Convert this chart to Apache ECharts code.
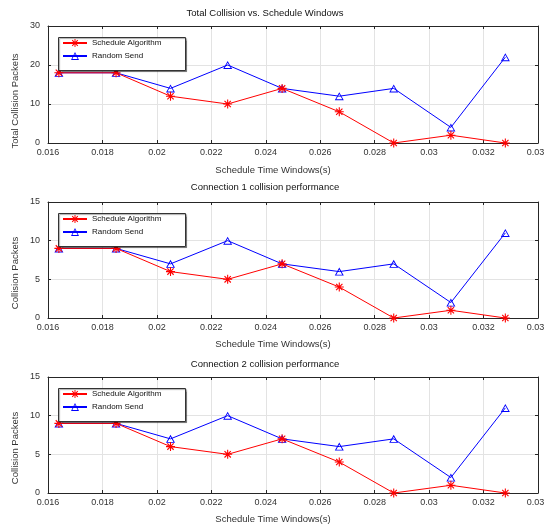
<!DOCTYPE html>
<html>
<head>
<meta charset="utf-8">
<script src="https://cdn.jsdelivr.net/npm/echarts@6/dist/echarts.min.js"></script>
<style>
html,body{margin:0;padding:0;background:#fff;}
#chart{width:544px;height:524px;}
</style>
</head>
<body>
<div id="chart"></div>
<script>
// ---- data ----
const scheduleWindows = [0.0164, 0.0185, 0.0205, 0.0226, 0.0246, 0.0267, 0.0287, 0.0308, 0.0328];
const totalSchedule = [18, 18, 12, 10, 14, 8, 0, 2, 0];
const totalRandom   = [18, 18, 14, 20, 14, 12, 14, 4, 22];
const conn1Schedule = [9, 9, 6, 5, 7, 4, 0, 1, 0];
const conn1Random   = [9, 9, 7, 10, 7, 6, 7, 2, 11];
const conn2Schedule = [9, 9, 6, 5, 7, 4, 0, 1, 0];
const conn2Random   = [9, 9, 7, 10, 7, 6, 7, 2, 11];
const seriesNames = ['Schedule Algorithm', 'Random Send'];
const plotTitles = ['Total Collision vs. Schedule Windows', 'Connection 1 collision performance', 'Connection 2 collision performance'];
const xAxisTitle = 'Schedule Time Windows(s)';
const yAxisTitles = ['Total Collision Packets', 'Collision Packets', 'Collision Packets'];
const yMax = [30, 15, 15];
const yStep = [10, 5, 5];

// ---- layout / style ----
const FONT = 'Liberation Sans, Arial, Helvetica, sans-serif';
const grids = [
  {left: 48, top: 26, width: 490, height: 117},
  {left: 48, top: 202, width: 490, height: 116},
  {left: 48, top: 377, width: 490, height: 116}
];
const titleY = [13, 187, 364];
const xNameY = [170, 344, 519];
const yNameY = [101, 273, 448];
const asterisk = 'path://M4.4 0L5.6 0L5.6 10L4.4 10ZM0 4.4L10 4.4L10 5.6L0 5.6ZM1.05 1.95L1.95 1.05L8.95 8.05L8.05 8.95ZM8.05 1.05L8.95 1.95L1.95 8.95L1.05 8.05Z';
const triangle = 'path://M5 0L10 9L0 9ZM5 2.06L1.7 8L8.3 8Z';
const axisColor = '#262626';

const sets = [[totalSchedule, totalRandom], [conn1Schedule, conn1Random], [conn2Schedule, conn2Random]];

const xAxis = [], yAxis = [], series = [], legend = [], graphic = [];
grids.forEach((g, i) => {
  const base = {
    gridIndex: i, type: 'value', min: 0.016, max: 0.034, interval: 0.002,
    axisLine: {show: true, onZero: false, lineStyle: {color: axisColor, width: 1}},
    axisTick: {show: true, inside: true, length: 3, lineStyle: {color: axisColor}}
  };
  xAxis.push(Object.assign({}, base, {
    position: 'bottom',
    axisLabel: {fontFamily: FONT, fontSize: 9, color: '#333', margin: 5, showMinLabel: true, showMaxLabel: true, hideOverlap: false},
    splitLine: {show: true, lineStyle: {color: '#e3e3e3', width: 1}}
  }));
  xAxis.push(Object.assign({}, base, {
    position: 'top', axisLabel: {show: false}, splitLine: {show: false}
  }));
  const ybase = {
    gridIndex: i, type: 'value', min: 0, max: yMax[i], interval: yStep[i],
    axisLine: {show: true, onZero: false, lineStyle: {color: axisColor, width: 1}},
    axisTick: {show: true, inside: true, length: 3, lineStyle: {color: axisColor}}
  };
  yAxis.push(Object.assign({}, ybase, {
    position: 'left',
    axisLabel: {fontFamily: FONT, fontSize: 9, color: '#333', margin: 8},
    splitLine: {show: true, lineStyle: {color: '#e3e3e3', width: 1}}
  }));
  yAxis.push(Object.assign({}, ybase, {
    position: 'right', axisLabel: {show: false}, splitLine: {show: false}
  }));
  const [sa, rs] = sets[i];
  series.push({
    name: seriesNames[0], type: 'line', xAxisIndex: 2 * i, yAxisIndex: 2 * i,
    data: scheduleWindows.map((x, k) => [x, sa[k]]),
    symbol: asterisk, symbolSize: 9, showAllSymbol: true,
    lineStyle: {color: '#ff0000', width: 1}, itemStyle: {color: '#ff0000'},
    emphasis: {disabled: true}, animation: false, z: 3
  });
  series.push({
    name: seriesNames[1], type: 'line', xAxisIndex: 2 * i, yAxisIndex: 2 * i,
    data: scheduleWindows.map((x, k) => [x, rs[k]]),
    symbol: triangle, symbolSize: [9, 8], showAllSymbol: true,
    lineStyle: {color: '#0000ff', width: 1}, itemStyle: {color: '#0000ff'},
    emphasis: {disabled: true}, animation: false, z: 2
  });
  const lx = g.left + 10, ly = g.top + 11;
  graphic.push({
    type: 'rect', left: lx, top: ly, z: 10,
    shape: {width: 127, height: 33},
    style: {fill: '#fff', stroke: '#333', lineWidth: 1, shadowColor: 'rgba(0,0,0,0.35)', shadowOffsetX: 1, shadowOffsetY: 1, shadowBlur: 1}
  });
  legend.push({
    data: seriesNames, orient: 'vertical', left: lx + 4, top: ly + 2, padding: 0,
    itemWidth: 24, itemHeight: 10, itemGap: 5, z: 12,
    selectedMode: false,
    textStyle: {fontFamily: FONT, fontSize: 8, color: '#111'}
  });
  graphic.push({
    type: 'text', x: 265, y: titleY[i], z: 10,
    style: {text: plotTitles[i], fontFamily: FONT, fontSize: 9.5, fill: '#111', textAlign: 'center', textVerticalAlign: 'middle'}
  });
  graphic.push({
    type: 'text', x: 273, y: xNameY[i], z: 10,
    style: {text: xAxisTitle, fontFamily: FONT, fontSize: 9.5, fill: '#333', textAlign: 'center', textVerticalAlign: 'middle'}
  });
  graphic.push({
    type: 'text', x: 15, y: yNameY[i], rotation: Math.PI / 2, z: 10,
    style: {text: yAxisTitles[i], fontFamily: FONT, fontSize: 9.5, fill: '#333', textAlign: 'center', textVerticalAlign: 'middle'}
  });
});

const chart = echarts.init(document.getElementById('chart'), null, {renderer: 'canvas'});
chart.setOption({
  backgroundColor: '#fff',
  animation: false,
  grid: grids.map(g => Object.assign({show: false, containLabel: false, outerBoundsMode: 'none'}, g)),
  xAxis, yAxis, series, legend, graphic
});
</script>
</body>
</html>
